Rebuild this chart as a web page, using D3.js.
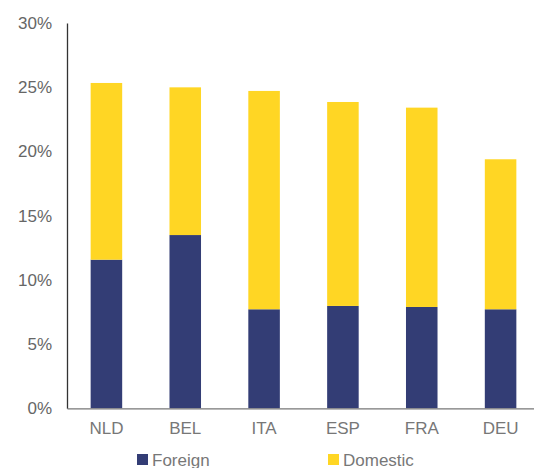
<!DOCTYPE html>
<html>
<head>
<meta charset="utf-8">
<script src="https://cdn.jsdelivr.net/npm/d3@7"></script>
<style>
  html, body { margin: 0; padding: 0; background: #fff; }
  svg { display: block; font-family: "Liberation Sans", Arial, sans-serif; }
</style>
</head>
<body>
<svg id="chart" width="534" height="468"></svg>
<script>
// Country codes along the x axis
const countries = ["NLD", "BEL", "ITA", "ESP", "FRA", "DEU"];
// Shares in percent, stacked: foreign at the bottom, domestic on top
const foreign  = [11.57, 13.49, 7.71, 7.97, 7.89, 7.71];
const domestic = [13.76, 11.50, 17.00, 15.88, 15.52, 11.68];
const yTicks = [0, 5, 10, 15, 20, 25, 30];
const seriesNames = ["Foreign", "Domestic"];
const colors = ["#333D75", "#FFD624"];

const svg = d3.select("#chart");
const margin = { left: 67, top: 23, right: -6, bottom: 60 };
const W = 534, H = 468;

const x = d3.scaleBand()
  .domain(countries)
  .range([margin.left, W - margin.right])
  .paddingInner(0.6)
  .paddingOuter(0.3);

const y = d3.scaleLinear()
  .domain([0, 30])
  .range([H - margin.bottom + 0.3, margin.top]);

const rows = countries.map((c, i) => ({ country: c, Foreign: foreign[i], Domestic: domestic[i] }));
const stacked = d3.stack().keys(seriesNames)(rows);

svg.append("g")
  .selectAll("g")
  .data(stacked)
  .join("g")
  .attr("fill", (d, i) => colors[i])
  .selectAll("rect")
  .data(d => d)
  .join("rect")
  .attr("x", d => x(d.data.country))
  .attr("width", x.bandwidth())
  .attr("y", d => y(d[1]))
  .attr("height", d => y(d[0]) - y(d[1]));

// Y axis
const yAxis = svg.append("g")
  .attr("transform", `translate(${margin.left},0)`)
  .call(d3.axisLeft(y).tickValues(yTicks).tickFormat(d => d + "%").tickSize(0).tickPadding(15));
yAxis.select(".domain").attr("stroke", "#333").attr("stroke-width", 1.3);
yAxis.selectAll("text")
  .attr("font-size", 17)
  .attr("fill", "#666")
  .attr("font-family", "Liberation Sans, Arial, sans-serif");

// X axis
const xAxis = svg.append("g")
  .attr("transform", `translate(0,${y(0)})`)
  .call(d3.axisBottom(x).tickSize(0).tickPadding(14));
xAxis.select(".domain").attr("stroke", "#777").attr("stroke-width", 1.3);
xAxis.selectAll("text")
  .attr("font-size", 17)
  .attr("fill", "#777")
  .attr("font-family", "Liberation Sans, Arial, sans-serif");

// Legend
const legendX = [137, 328];
const legend = svg.append("g")
  .selectAll("g")
  .data(seriesNames)
  .join("g")
  .attr("transform", (d, i) => `translate(${legendX[i]},454)`);
legend.append("rect")
  .attr("width", 11).attr("height", 11)
  .attr("fill", (d, i) => colors[i]);
legend.append("text")
  .attr("x", 15).attr("y", 11.5)
  .attr("font-size", 17)
  .attr("fill", "#777")
  .text(d => d);
</script>
</body>
</html>
